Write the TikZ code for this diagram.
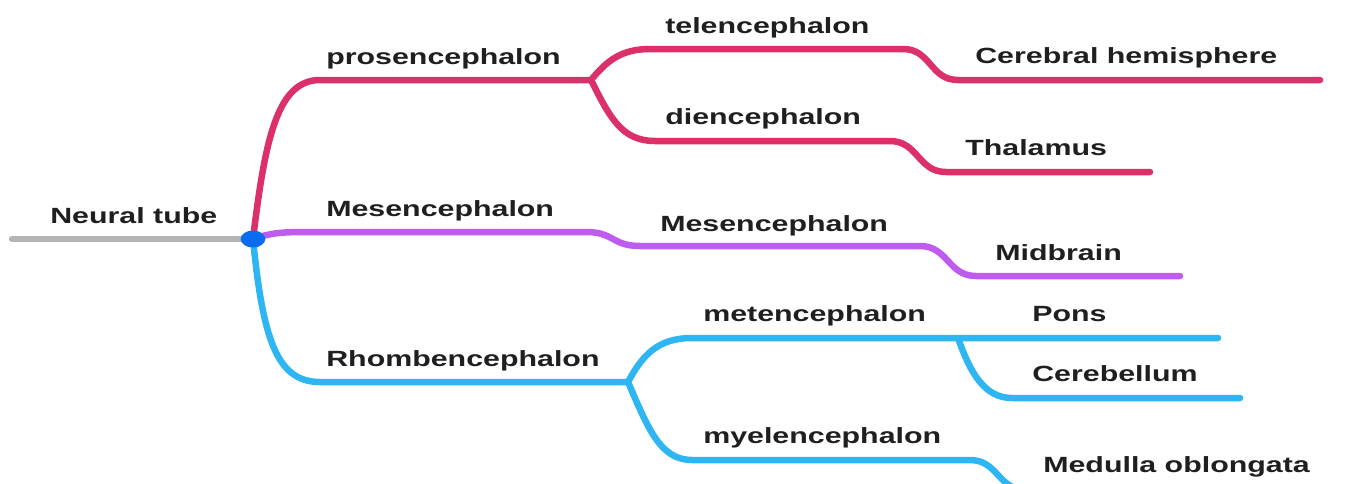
\documentclass[tikz,border=0pt]{standalone}
\usepackage{fontspec}
\setmainfont{Liberation Sans}
\definecolor{rootgray}{HTML}{B4B4B4}
\definecolor{hubblue}{HTML}{0A6CF0}
\definecolor{prosred}{HTML}{DC3068}
\definecolor{mesviolet}{HTML}{BE5CF0}
\definecolor{rhomblue}{HTML}{2DB6F2}
\begin{document}
\begin{tikzpicture}[x=1pt,y=-1pt,
  lbl/.style={anchor=base west,inner sep=0pt,xscale=1.38,text=black!88,
    font=\bfseries\fontsize{22}{26}\selectfont},
  branch/.style={line width=6.5pt,line cap=round,line join=round},
  stepdown/.style={to path={.. controls +(28,0) and +(-28,0) .. (\tikztotarget)}}]
\useasboundingbox (0,0) rectangle (1356,483);
\clip (0,0) rectangle (1356,483);

% hub and end points
\coordinate (hub) at (253,239);
\coordinate (rootL) at (12,239);

% ---- prosencephalon (red)
\coordinate (p0) at (320,80);
\coordinate (pf) at (591,80);
\coordinate (t0) at (650,49);
\coordinate (t1) at (903,49);
\coordinate (t2) at (958,80);
\coordinate (t3) at (1320,80);
\coordinate (d0) at (655,141);
\coordinate (d1) at (890,141);
\coordinate (d2) at (946,172);
\coordinate (d3) at (1150,172);

% ---- mesencephalon (violet)
\coordinate (m0) at (305,232);
\coordinate (m1) at (586,232);
\coordinate (m2) at (640,246);
\coordinate (m3) at (920,246);
\coordinate (m4) at (976,276);
\coordinate (m5) at (1180,276);

% ---- rhombencephalon (blue)
\coordinate (r0) at (320,382);
\coordinate (rf) at (628,382);
\coordinate (e0) at (692,338);
\coordinate (ej) at (958,338);
\coordinate (e1) at (1218,338);
\coordinate (c0) at (1012,398);
\coordinate (c1) at (1240,398);
\coordinate (y0) at (692,460);
\coordinate (y1) at (970,460);
\coordinate (y2) at (1026,490);
\coordinate (y3) at (1400,490);

% root stem
\draw[branch,rootgray] (rootL) -- (hub);

% red branch
\draw[branch,prosred] (hub) .. controls (265,140) and (277,80) .. (p0) -- (pf);
\draw[branch,prosred] (pf) .. controls (606,62) and (620,49) .. (t0) -- (t1)
  to[stepdown] (t2) -- (t3);
\draw[branch,prosred] (pf) .. controls (610,118) and (622,141) .. (d0) -- (d1)
  to[stepdown] (d2) -- (d3);

% violet branch
\draw[branch,mesviolet] (hub) .. controls (270,233) and (282,232) .. (m0) -- (m1)
  to[stepdown] (m2) -- (m3) to[stepdown] (m4) -- (m5);

% blue branch
\draw[branch,rhomblue] (hub) .. controls (263,340) and (277,382) .. (r0) -- (rf);
\draw[branch,rhomblue] (rf) .. controls (642,356) and (657,338) .. (e0) -- (e1);
\draw[branch,rhomblue] (ej) .. controls (970,372) and (984,398) .. (c0) -- (c1);
\draw[branch,rhomblue] (rf) .. controls (648,428) and (660,460) .. (y0) -- (y1)
  to[stepdown] (y2) -- (y3);

% hub dot
\node[circle,fill=hubblue,inner sep=0pt,minimum size=17pt,xscale=1.45] (hubdot) at (hub) {};

% labels
\node[lbl] (neural) at (50,223) {Neural tube};
\node[lbl] (pros) at (326,64) {prosencephalon};
\node[lbl] (tel) at (665,33) {telencephalon};
\node[lbl] (cer) at (975,63) {Cerebral hemisphere};
\node[lbl] (die) at (665,124) {diencephalon};
\node[lbl] (tha) at (965,155) {Thalamus};
\node[lbl] (mesA) at (326,216) {Mesencephalon};
\node[lbl] (mesB) at (660,231) {Mesencephalon};
\node[lbl] (mid) at (995,260) {Midbrain};
\node[lbl] (rho) at (326,366) {Rhombencephalon};
\node[lbl] (met) at (703,321) {metencephalon};
\node[lbl] (pon) at (1032,321) {Pons};
\node[lbl] (cbl) at (1032,381) {Cerebellum};
\node[lbl] (mye) at (703,443) {myelencephalon};
\node[lbl] (med) at (1043,472) {Medulla oblongata};
\end{tikzpicture}
\end{document}
